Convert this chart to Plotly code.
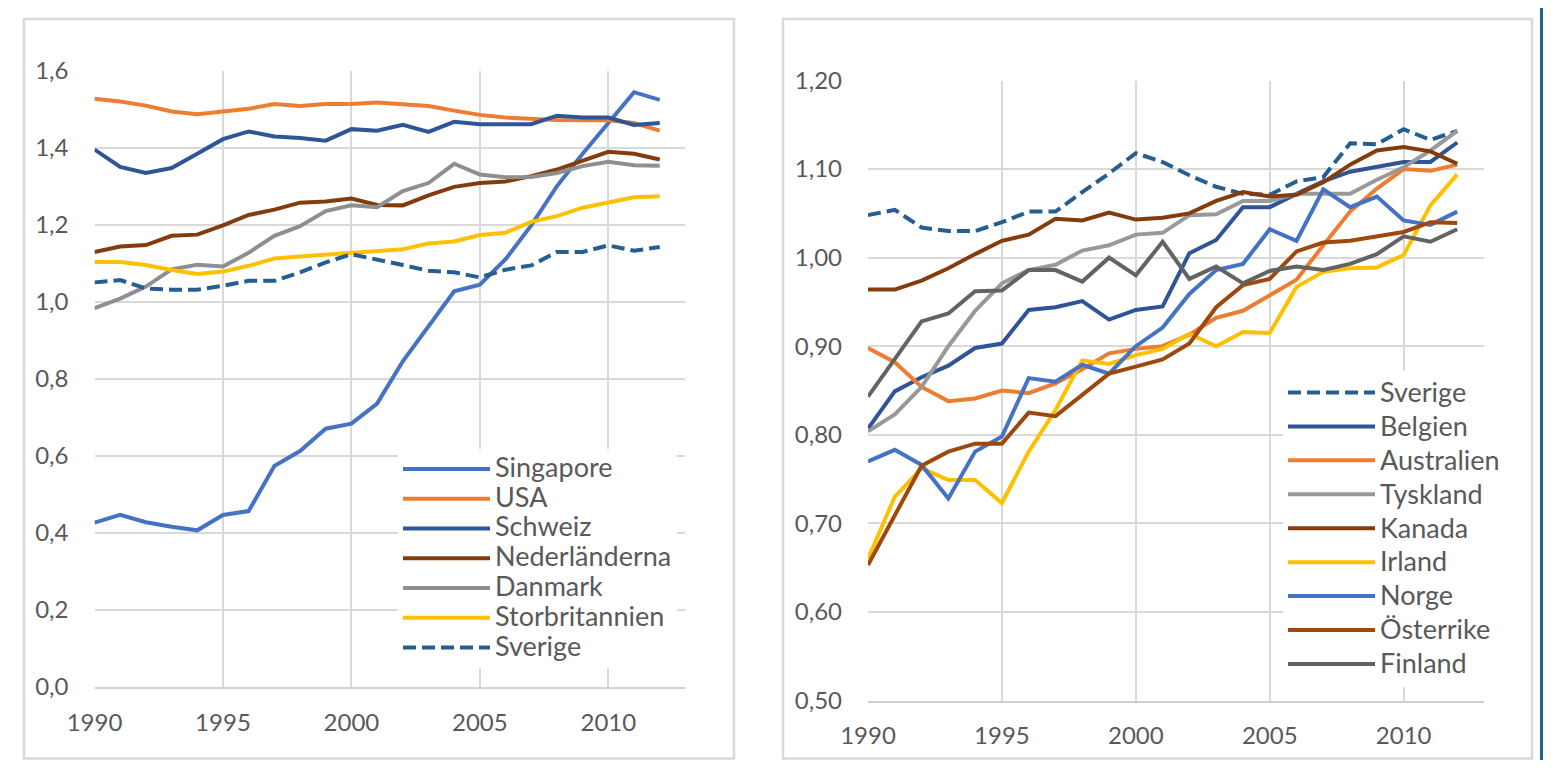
import plotly.graph_objects as go

years = list(range(1990, 2013))

# ---- Left chart data ----
singapore = [0.427, 0.447, 0.428, 0.416, 0.407, 0.447, 0.457, 0.574, 0.613, 0.671, 0.684, 0.736, 0.846,
             0.937, 1.028, 1.045, 1.111, 1.199, 1.301, 1.385, 1.465, 1.545, 1.525]
usa = [1.528, 1.521, 1.510, 1.495, 1.488, 1.495, 1.502, 1.514, 1.509, 1.514, 1.514, 1.518, 1.514,
       1.509, 1.497, 1.486, 1.479, 1.475, 1.473, 1.472, 1.472, 1.465, 1.445]
schweiz = [1.396, 1.351, 1.335, 1.348, 1.385, 1.423, 1.443, 1.430, 1.426, 1.419, 1.449, 1.445, 1.460,
           1.442, 1.468, 1.462, 1.462, 1.462, 1.484, 1.479, 1.479, 1.460, 1.465]
nederlanderna = [1.130, 1.144, 1.148, 1.172, 1.175, 1.199, 1.226, 1.240, 1.258, 1.261, 1.269, 1.252, 1.251,
                 1.277, 1.299, 1.309, 1.313, 1.327, 1.344, 1.367, 1.390, 1.385, 1.370]
danmark = [0.984, 1.009, 1.040, 1.085, 1.097, 1.092, 1.128, 1.172, 1.197, 1.236, 1.251, 1.246, 1.288,
           1.309, 1.359, 1.331, 1.324, 1.325, 1.335, 1.353, 1.364, 1.355, 1.354]
storbritannien = [1.104, 1.104, 1.096, 1.083, 1.073, 1.079, 1.094, 1.113, 1.118, 1.123, 1.127, 1.133, 1.137,
                  1.152, 1.157, 1.174, 1.180, 1.208, 1.223, 1.245, 1.258, 1.272, 1.275]
sverige_l = [1.051, 1.057, 1.035, 1.032, 1.032, 1.042, 1.055, 1.055, 1.077, 1.103, 1.124, 1.111, 1.096,
             1.081, 1.077, 1.064, 1.084, 1.095, 1.130, 1.130, 1.147, 1.133, 1.143]

# ---- Right chart data ----
sverige_r = [1.048, 1.054, 1.034, 1.030, 1.030, 1.040, 1.052, 1.052, 1.074, 1.095, 1.118, 1.108, 1.093,
             1.080, 1.072, 1.071, 1.086, 1.091, 1.129, 1.128, 1.145, 1.133, 1.143]
belgien = [0.807, 0.849, 0.865, 0.878, 0.898, 0.903, 0.941, 0.944, 0.951, 0.930, 0.941, 0.945, 1.005,
           1.020, 1.057, 1.057, 1.072, 1.086, 1.097, 1.103, 1.108, 1.108, 1.130]
australien = [0.898, 0.882, 0.854, 0.838, 0.841, 0.850, 0.847, 0.858, 0.874, 0.892, 0.897, 0.900, 0.913,
              0.932, 0.940, 0.957, 0.975, 1.014, 1.052, 1.078, 1.100, 1.098, 1.105]
tyskland = [0.804, 0.823, 0.854, 0.900, 0.940, 0.971, 0.986, 0.992, 1.008, 1.014, 1.026, 1.028, 1.048,
            1.049, 1.064, 1.064, 1.072, 1.072, 1.072, 1.088, 1.102, 1.121, 1.143]
kanada = [0.964, 0.964, 0.974, 0.988, 1.004, 1.019, 1.026, 1.044, 1.042, 1.051, 1.043, 1.045, 1.050,
          1.064, 1.074, 1.069, 1.071, 1.085, 1.105, 1.121, 1.125, 1.120, 1.106]
irland = [0.660, 0.730, 0.762, 0.749, 0.749, 0.723, 0.781, 0.828, 0.884, 0.880, 0.890, 0.897, 0.914,
          0.900, 0.916, 0.915, 0.967, 0.984, 0.988, 0.989, 1.003, 1.059, 1.094]
norge = [0.770, 0.783, 0.766, 0.728, 0.781, 0.798, 0.864, 0.860, 0.879, 0.869, 0.900, 0.921, 0.959,
         0.986, 0.993, 1.032, 1.019, 1.077, 1.057, 1.069, 1.042, 1.037, 1.052]
osterrike = [0.653, 0.709, 0.765, 0.781, 0.790, 0.790, 0.825, 0.821, 0.845, 0.869, 0.877, 0.885, 0.903,
             0.944, 0.969, 0.976, 1.007, 1.017, 1.019, 1.024, 1.029, 1.040, 1.039]
finland = [0.843, 0.886, 0.928, 0.937, 0.962, 0.963, 0.986, 0.986, 0.973, 1.000, 0.980, 1.018, 0.976,
           0.990, 0.971, 0.985, 0.990, 0.986, 0.993, 1.004, 1.024, 1.018, 1.032]

x_ticks = [1990, 1995, 2000, 2005, 2010]

OFF = 8                 # page offset (body margin) observed in the screenshot
W, H = 1551 - OFF, 768 - 2 * OFF
FONT = "Lato"
TXT = "#595959"
GRID = "#D9D9D9"
LW = 4
DASH = "13px,6px"
LEG_GLYPH = 27

left_series = [
    ("Singapore", singapore, "#4472C4", "solid"),
    ("USA", usa, "#ED7D31", "solid"),
    ("Schweiz", schweiz, "#2F5597", "solid"),
    ("Nederländerna", nederlanderna, "#843C0C", "solid"),
    ("Danmark", danmark, "#8F8F8F", "solid"),
    ("Storbritannien", storbritannien, "#FFC000", "solid"),
    ("Sverige", sverige_l, "#255E91", DASH),
]
right_series = [
    ("Sverige", sverige_r, "#255E91", DASH),
    ("Belgien", belgien, "#2F5597", "solid"),
    ("Australien", australien, "#ED7D31", "solid"),
    ("Tyskland", tyskland, "#999999", "solid"),
    ("Kanada", kanada, "#843C0C", "solid"),
    ("Irland", irland, "#FFC000", "solid"),
    ("Norge", norge, "#4472C4", "solid"),
    ("Österrike", osterrike, "#9E480E", "solid"),
    ("Finland", finland, "#636363", "solid"),
]


def leg_name(name):
    return "<span style='font-size:%dpx'>%s</span>" % (LEG_GLYPH, name)


fig = go.Figure()
for name, vals, col, dash in left_series:
    fig.add_trace(go.Scatter(x=years, y=vals, name=leg_name(name), mode="lines",
                             line=dict(color=col, width=LW, dash=dash),
                             xaxis="x", yaxis="y", legend="legend"))
for name, vals, col, dash in right_series:
    fig.add_trace(go.Scatter(x=years, y=vals, name=leg_name(name), mode="lines",
                             line=dict(color=col, width=LW, dash=dash),
                             xaxis="x2", yaxis="y2", legend="legend2"))


def px_x(p):
    return (p - OFF) / W


def px_y(p):
    return 1 - (p - OFF) / H


base_axis = dict(showgrid=True, gridcolor=GRID, gridwidth=1.5, zeroline=False,
                 tickfont=dict(family=FONT, size=24, color=TXT), ticks="",
                 fixedrange=True, automargin=False)
x_axis_common = dict(base_axis, ticklabelstandoff=13, showline=True, linecolor="#CFCFCF", linewidth=2)
y_axis_common = dict(base_axis, ticklabelstandoff=25, showline=False)

shapes = [
    # white sheet
    dict(type="rect", xref="paper", yref="paper", x0=px_x(7), x1=px_x(1540), y0=px_y(800), y1=px_y(5),
         fillcolor="white", line=dict(width=0), layer="below"),
    # light border frames
    dict(type="rect", xref="paper", yref="paper", x0=px_x(24), x1=px_x(734), y0=px_y(758.5), y1=px_y(19),
         fillcolor="rgba(0,0,0,0)", line=dict(width=2.5, color="#D9D9D9"), layer="below"),
    dict(type="rect", xref="paper", yref="paper", x0=px_x(783), x1=px_x(1532), y0=px_y(758.5), y1=px_y(19),
         fillcolor="rgba(0,0,0,0)", line=dict(width=2.5, color="#D9D9D9"), layer="below"),
]

fig.update_layout(
    template="none",
    width=W, height=H,
    autosize=False,
    margin=dict(l=0, r=0, t=0, b=0, pad=0, autoexpand=False),
    paper_bgcolor="#1E6679",
    plot_bgcolor="white",
    separators=", ",
    font=dict(family=FONT, color=TXT),
    shapes=shapes,
    xaxis=dict(domain=[px_x(94.5), px_x(685.4)], range=[1990, 2013], tickvals=x_ticks,
               anchor="y", **x_axis_common),
    yaxis=dict(domain=[px_y(687), px_y(71)], range=[0, 1.6], dtick=0.2, tick0=0, tickformat=".1f",
               anchor="x", **y_axis_common),
    xaxis2=dict(domain=[px_x(868), px_x(1484)], range=[1990, 2013], tickvals=x_ticks,
                anchor="y2", **x_axis_common),
    yaxis2=dict(domain=[px_y(700.5), px_y(80.5)], range=[0.5, 1.2], dtick=0.1, tick0=0.5, tickformat=".2f",
                anchor="x2", **y_axis_common),
    legend=dict(x=px_x(398), y=px_y(449), xanchor="left", yanchor="top", bgcolor="white",
                font=dict(family=FONT, size=20.6, color=TXT), itemwidth=87, tracegroupgap=0,
                traceorder="normal", borderwidth=0),
    legend2=dict(x=px_x(1283), y=px_y(370.5), xanchor="left", yanchor="top", bgcolor="white",
                 font=dict(family=FONT, size=23.8, color=TXT), itemwidth=87, tracegroupgap=0,
                 traceorder="normal", borderwidth=0),
    showlegend=True,
)

fig.write_html("out.html")
